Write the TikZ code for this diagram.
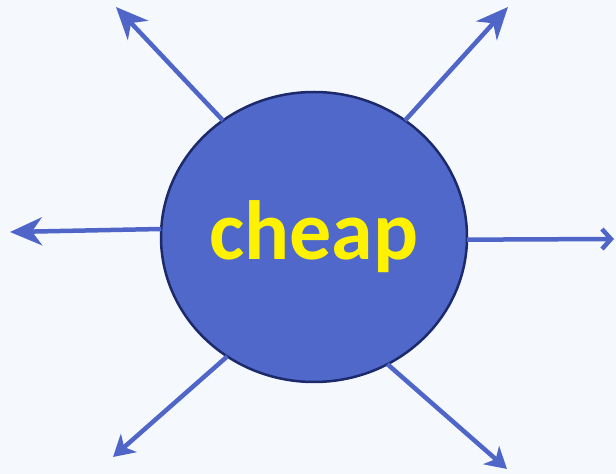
\documentclass[tikz,border=0pt]{standalone}
\usepackage{fontspec}
\setmainfont{Carlito}
\usetikzlibrary{arrows.meta,shapes.geometric}
\definecolor{bgblue}{HTML}{F5F9FE}
\definecolor{arrblue}{HTML}{4F66C8}
\definecolor{ballblue}{HTML}{4F68C9}
\definecolor{ballrim}{HTML}{1C2A6B}

\begin{document}
\begin{tikzpicture}[
x=1pt,y=1pt,
ball/.style={
  draw=ballrim,
  fill=ballblue,
  ellipse,
  line width=2.5pt,
  minimum width=306pt,
  minimum height=290pt,
  inner sep=0pt,
  outer sep=0pt,
  text=yellow,
  font=\bfseries\fontsize{84}{84}\selectfont
},
bigarr/.style={
  draw=arrblue,
  line width=4.5pt,
  -{Stealth[length=32pt,width=28pt,inset=10pt]}
},
smallarr/.style={
  draw=arrblue,
  line width=4.5pt,
  -{Stealth[length=21pt,width=24pt,inset=6pt]}
},
barbarr/.style={
  draw=arrblue,
  line width=4.5pt,
  -{Straight Barb[length=9pt,width=20pt]}
}
]
\fill[bgblue] (0,0) rectangle (616,474);
\useasboundingbox (0,0) rectangle (616,474);

\coordinate (ul) at (116,467);
\coordinate (ur) at (508,467);
\coordinate (le) at (10,242);
\coordinate (ri) at (614,235);
\coordinate (ll) at (113,17);
\coordinate (lr) at (507,5);

\node[ball] (cheap) at (314,237) {\raisebox{7pt}{cheap}};

\draw[bigarr] (cheap.128) -- (ul);
\draw[bigarr] (cheap.52) -- (ur);
\draw[bigarr] (cheap.177) -- (le);
\draw[barbarr] (cheap.359) -- (ri);
\draw[smallarr] (cheap.234) -- (ll);
\draw[smallarr] (cheap.300) -- (lr);
\end{tikzpicture}
\end{document}
